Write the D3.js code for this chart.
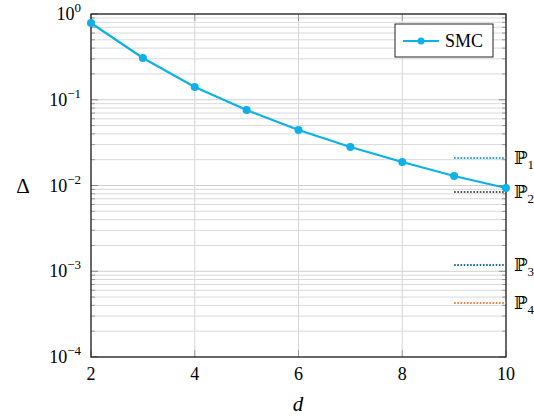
<!DOCTYPE html>
<html><head><meta charset="utf-8">
<script src="https://cdn.jsdelivr.net/npm/d3@7"></script>
<style>body{margin:0;background:#fff}svg{display:block}
text{font-family:"Liberation Serif","Times New Roman","DejaVu Serif","Noto Serif",Times,serif;}
</style>
</head><body>
<svg id="c" width="534" height="418"></svg>
<script>
const dValues = [2,3,4,5,6,7,8,9,10];
const smcValues = [0.785,0.307,0.141,0.076,0.0444,0.0281,0.0188,0.0129,0.00935];
const refNames = ["1","2","3","4"];
const refValues = [0.0209,0.0084,0.00118,0.000426];
const refColors = ["#1fa8e0","#555555","#1a6e9e","#f07f3c"];
const xTicks = [2,4,6,8,10];
const yTickExps = [0,-1,-2,-3,-4];

const svg = d3.select("#c");
const L=91,R=506,T=14,B=357;
const x = d3.scaleLinear().domain([2,10]).range([L,R]);
const y = d3.scaleLog().domain([1e-4,1]).range([B,T]);
const g = svg.append("g");

const minors=[];
for(let e=-4;e<0;e++) for(let k=2;k<=9;k++) minors.push(k*Math.pow(10,e));
g.selectAll(".mg").data(minors).enter().append("line")
 .attr("x1",L).attr("x2",R).attr("y1",d=>y(d)).attr("y2",d=>y(d))
 .attr("stroke","#d9d9d9").attr("stroke-width",1);
g.selectAll(".Mg").data(yTickExps).enter().append("line")
 .attr("x1",L).attr("x2",R).attr("y1",d=>y(Math.pow(10,d))).attr("y2",d=>y(Math.pow(10,d)))
 .attr("stroke","#cfcfcf").attr("stroke-width",1);
g.selectAll(".vg").data(xTicks).enter().append("line")
 .attr("x1",d=>x(d)).attr("x2",d=>x(d)).attr("y1",T).attr("y2",B)
 .attr("stroke","#d6d6d6").attr("stroke-width",1);
g.selectAll(".mt").data(minors).enter().append("g").each(function(d){
  const s=d3.select(this);
  s.append("line").attr("x1",L).attr("x2",L+4).attr("y1",y(d)).attr("y2",y(d)).attr("stroke","#999");
  s.append("line").attr("x1",R-4).attr("x2",R).attr("y1",y(d)).attr("y2",y(d)).attr("stroke","#999");
});
g.selectAll(".Mt").data(yTickExps).enter().append("g").each(function(d){
  const s=d3.select(this), yy=y(Math.pow(10,d));
  s.append("line").attr("x1",L).attr("x2",L+7).attr("y1",yy).attr("y2",yy).attr("stroke","#888");
  s.append("line").attr("x1",R-7).attr("x2",R).attr("y1",yy).attr("y2",yy).attr("stroke","#888");
});
g.selectAll(".xt").data(xTicks).enter().append("g").each(function(d){
  const s=d3.select(this);
  s.append("line").attr("x1",x(d)).attr("x2",x(d)).attr("y1",B).attr("y2",B-7).attr("stroke","#999");
  s.append("line").attr("x1",x(d)).attr("x2",x(d)).attr("y1",T).attr("y2",T+7).attr("stroke","#999");
});

g.append("rect").attr("x",L).attr("y",T).attr("width",R-L).attr("height",B-T)
 .attr("fill","none").attr("stroke","#222").attr("stroke-width",1.3);

g.selectAll(".xl").data(xTicks).enter().append("text")
 .attr("x",d=>x(d)).attr("y",B+23).attr("text-anchor","middle")
 .attr("font-size",18).text(d=>d);
yTickExps.forEach(e=>{
  const t=g.append("text").attr("x",L-10).attr("y",y(Math.pow(10,e))+6).attr("text-anchor","end")
   .attr("font-size",18);
  t.append("tspan").text("10");
  t.append("tspan").attr("dy",-8).attr("font-size",13).text(e===0?"0":"\u2212"+(-e));
});

g.append("text").attr("x",298).attr("y",411).attr("text-anchor","middle")
 .attr("font-style","italic").attr("font-size",21).text("d");
g.append("text").attr("x",23).attr("y",193).attr("text-anchor","middle")
 .attr("font-size",21).text("\u0394");

refValues.forEach((v,i)=>{
  g.append("line").attr("x1",x(9)).attr("x2",x(10)).attr("y1",y(v)).attr("y2",y(v))
   .attr("stroke",refColors[i]).attr("stroke-width",2).attr("stroke-dasharray","1.6,1.6");
  const t=g.append("text").attr("x",R+8).attr("y",y(v)+6).attr("font-size",18);
  t.append("tspan").text("\u2119");
  t.append("tspan").attr("dy",5).attr("font-size",13).text(refNames[i]);
});

const col="#0db1e8";
g.append("path").datum(dValues.map((d,i)=>[d,smcValues[i]]))
 .attr("d",d3.line().x(d=>x(d[0])).y(d=>y(d[1])))
 .attr("fill","none").attr("stroke",col).attr("stroke-width",2.2);
g.selectAll(".pt").data(dValues).enter().append("circle")
 .attr("cx",d=>x(d)).attr("cy",(d,i)=>y(smcValues[i])).attr("r",4).attr("fill",col);

const lg=g.append("g");
lg.append("rect").attr("x",395).attr("y",24).attr("width",98).attr("height",33)
 .attr("fill","#fff").attr("stroke","#222").attr("stroke-width",1);
lg.append("line").attr("x1",403).attr("x2",439).attr("y1",41).attr("y2",41).attr("stroke",col).attr("stroke-width",2.2);
lg.append("circle").attr("cx",421).attr("cy",41).attr("r",3.5).attr("fill",col);
lg.append("text").attr("x",445).attr("y",47).attr("font-size",18).text("SMC");
</script>
</body></html>
